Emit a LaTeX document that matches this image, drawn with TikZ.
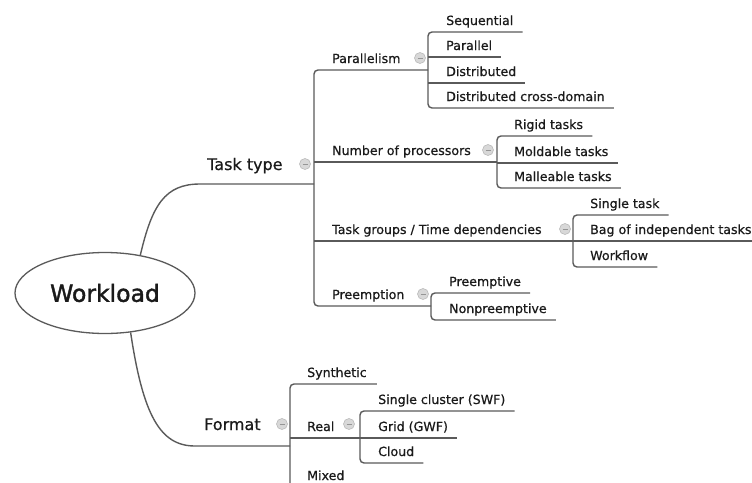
\documentclass[tikz,border=0pt]{standalone}
\usepackage{fontspec}
\setmainfont{DejaVu Sans}
\newfontfamily\mmfont[FakeBold=0.6]{DejaVu Sans}
\newfontfamily\rootfont[FakeBold=1.6]{DejaVu Sans}
\usetikzlibrary{shapes.geometric}
\definecolor{linecol}{HTML}{5A5A5A}
\definecolor{txtcol}{HTML}{1A1A1A}
\definecolor{togfill}{HTML}{D8D8D8}
\definecolor{togdraw}{HTML}{BBBBBB}
\definecolor{togminus}{HTML}{959595}
\begin{document}
\begin{tikzpicture}[x=1pt,y=-1pt,
  conn/.style={draw=linecol,line width=1.4pt},
  bracket/.style={conn,rounded corners=4pt},
  lbl/.style={anchor=base west,inner sep=0pt,text=txtcol,font=\mmfont\fontsize{12.6}{15}\selectfont},
  biglbl/.style={lbl,font=\mmfont\fontsize{16}{19}\selectfont},
  tog/.style={circle,fill=togfill,draw=togdraw,line width=0.6pt,minimum size=11pt,inner sep=0pt,
    path picture={\draw[togminus,line width=0.9pt] ([xshift=-2.5pt]path picture bounding box.center) -- ([xshift=2.5pt]path picture bounding box.center);}},
  rootnode/.style={ellipse,draw=linecol,line width=1.3pt,minimum width=180pt,minimum height=81pt,inner sep=0pt,text=txtcol,font=\rootfont\fontsize{23.5}{28}\selectfont}
]
\useasboundingbox[fill=white] (0,0) rectangle (752,482);

% root
\node[rootnode] (root) at (105,293) {Workload};

% ---------- Task type ----------
\node[biglbl] (tt) at (207,170) {Task type};
\node[tog] (tgtt) at (305,164) {};
\coordinate (ttj) at (314,184);
\draw[conn] (root.47) .. controls (152,205) and (165,184) .. (200,184) -- (ttj);
\draw[bracket] (428,70) -- (314,70) -- (314,306) -- (431,306);
\draw[conn] (314,162) -- (497,162);
\draw[conn] (314,241) -- (573,241);

% Parallelism
\node[lbl] (par) at (332,63) {Parallelism};
\node[tog] (tgpar) at (420,58) {};
\node[lbl] (seq) at (446,25) {Sequential};
\node[lbl] (prl) at (446,50) {Parallel};
\node[lbl] (dst) at (446,76) {Distributed};
\node[lbl] (dcd) at (446,101) {Distributed cross-domain};
\draw[bracket] ([shift={(9pt,-7pt)}]seq.base east) -- ([shift={(-18pt,-7pt)}]seq.base west) -- ([shift={(-18pt,-7pt)}]dcd.base west) -- ([shift={(9pt,-7pt)}]dcd.base east);
\draw[conn] ([shift={(-18pt,-7pt)}]prl.base west) -- ([shift={(9pt,-7pt)}]prl.base east);
\draw[conn] ([shift={(-18pt,-7pt)}]dst.base west) -- ([shift={(9pt,-7pt)}]dst.base east);

% Number of processors
\node[lbl] (nop) at (332,155) {Number of processors};
\node[tog] (tgnop) at (488,150) {};
\node[lbl] (rig) at (514,129) {Rigid tasks};
\node[lbl] (mol) at (514,156) {Moldable tasks};
\node[lbl] (mal) at (514,181) {Malleable tasks};
\draw[bracket] ([shift={(9pt,-7pt)}]rig.base east) -- ([shift={(-17pt,-7pt)}]rig.base west) -- ([shift={(-17pt,-7pt)}]mal.base west) -- ([shift={(9pt,-7pt)}]mal.base east);
\draw[conn] ([shift={(-17pt,-7pt)}]mol.base west) -- ([shift={(9pt,-7pt)}]mol.base east);

% Task groups
\node[lbl] (tg) at (332,234) {Task groups / Time dependencies};
\node[tog] (tgtg) at (565,229) {};
\node[lbl] (sgl) at (590,208) {Single task};
\node[lbl] (bag) at (590,234) {Bag of independent tasks};
\node[lbl] (wfl) at (590,260) {Workflow};
\draw[bracket] ([shift={(9pt,-7pt)}]sgl.base east) -- ([shift={(-17pt,-7pt)}]sgl.base west) -- ([shift={(-17pt,-7pt)}]wfl.base west) -- ([shift={(9pt,-7pt)}]wfl.base east);
\draw[conn] ([shift={(-17pt,-7pt)}]bag.base west) -- ([shift={(9pt,-7pt)}]bag.base east);

% Preemption
\node[lbl] (pre) at (332,299) {Preemption};
\node[tog] (tgpre) at (423,294) {};
\node[lbl] (pmt) at (449,286) {Preemptive};
\node[lbl] (npm) at (449,313) {Nonpreemptive};
\draw[bracket] ([shift={(9pt,-7pt)}]pmt.base east) -- ([shift={(-18pt,-7pt)}]pmt.base west) -- ([shift={(-18pt,-7pt)}]npm.base west) -- ([shift={(9pt,-7pt)}]npm.base east);

% ---------- Format ----------
\node[biglbl] (fmt) at (204,430) {Format};
\node[tog] (tgfmt) at (282,424) {};
\coordinate (fmj) at (290,446);
\draw[conn] (root.-57) .. controls (143,415) and (160,446) .. (195,446) -- (fmj);
\node[lbl] (syn) at (307,377) {Synthetic};
\node[lbl] (real) at (307,431) {Real};
\node[tog] (tgreal) at (349,424) {};
\node[lbl] (mix) at (307,480) {Mixed};
\draw[bracket] ([shift={(10pt,-7pt)}]syn.base east) -- (290,384) -- (290,500);
\draw[conn] (290,438) -- (360,438);
\node[lbl] (scl) at (378,404) {Single cluster (SWF)};
\node[lbl] (grd) at (378,431) {Grid (GWF)};
\node[lbl] (cld) at (378,456) {Cloud};
\draw[bracket] ([shift={(9pt,-7pt)}]scl.base east) -- ([shift={(-18pt,-7pt)}]scl.base west) -- ([shift={(-18pt,-7pt)}]cld.base west) -- ([shift={(9pt,-7pt)}]cld.base east);
\draw[conn] ([shift={(-18pt,-7pt)}]grd.base west) -- ([shift={(9pt,-7pt)}]grd.base east);
\end{tikzpicture}
\end{document}
